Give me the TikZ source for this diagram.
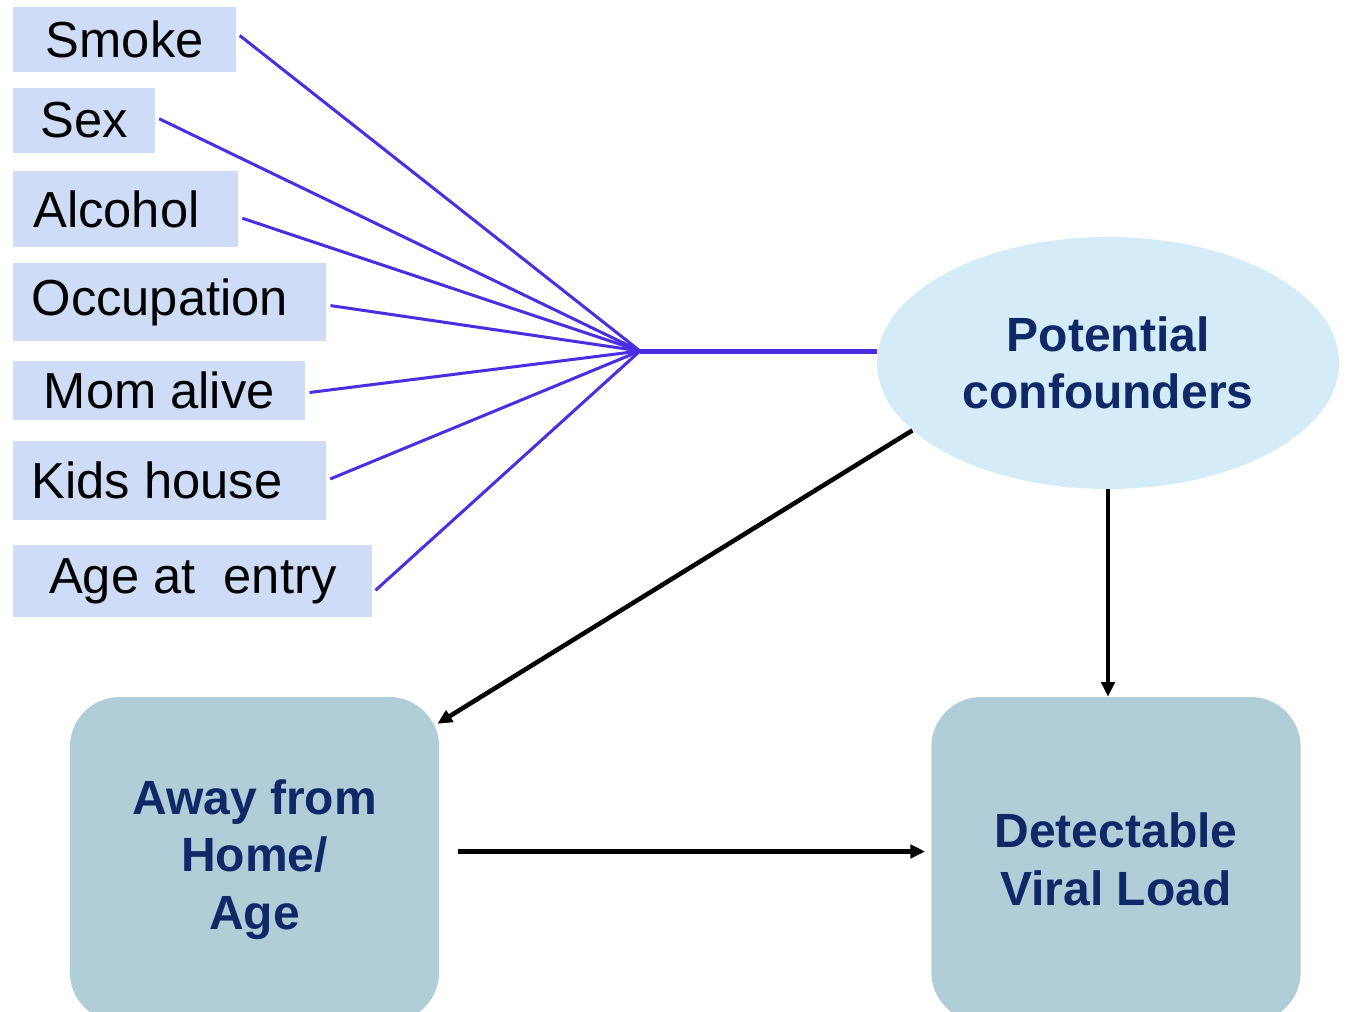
\documentclass[tikz,border=0pt]{standalone}
\usepackage{fontspec}
\setmainfont{Liberation Sans}
\usetikzlibrary{arrows.meta,shapes.geometric,calc}

\definecolor{factorfill}{RGB}{207,220,247}
\definecolor{feedblue}{RGB}{74,46,226}
\definecolor{conffill}{RGB}{212,236,247}
\definecolor{boxfill}{RGB}{176,205,216}
\definecolor{navy}{RGB}{15,40,104}

\tikzset{
  factor/.style={fill=factorfill, inner sep=0pt, anchor=west,
    font=\fontsize{38}{44}\selectfont},
  nudge/.style={execute at begin node={\hspace*{-#1}}},
  feed/.style={draw=feedblue, line width=2.25pt, shorten <=3pt},
  mainbox/.style={fill=boxfill, rounded corners=37.5pt, inner sep=0pt,
    minimum width=277pt, minimum height=243.75pt, align=center,
    text=navy, font=\fontsize{36}{43}\selectfont\bfseries},
  cause/.style={line width=3.4pt, -{Triangle[length=11pt,width=10pt]}}
}

\begin{document}
\begin{tikzpicture}[x=0.75pt,y=-0.75pt]
  \clip (0,0) rectangle (1348,1012);
  \fill[white] (0,0) rectangle (1348,1012);

  % the possible confounders
  \node[factor, minimum width=167.25pt, minimum height=48.75pt] (smoke) at (13,39.5) {Smoke};
  \node[factor, minimum width=106.5pt, minimum height=48.75pt] (sex) at (13,120.5) {Sex};
  \node[factor, nudge=14pt, minimum width=168.75pt, minimum height=57pt] (alcohol) at (13,209) {Alcohol};
  \node[factor, nudge=15pt, minimum width=234.75pt, minimum height=58.5pt] (occupation) at (13,302) {Occupation};
  \node[factor, minimum width=219pt, minimum height=44.25pt] (mom) at (13,390.5) {Mom alive};
  \node[factor, nudge=19pt, minimum width=234.75pt, minimum height=59.25pt] (kids) at (13,480.5) {Kids house};
  \node[factor, minimum width=269.25pt, minimum height=54pt] (entry) at (13,581) {Age at~ entry};

  \node[ellipse, fill=conffill, inner sep=0pt, minimum width=346.5pt,
    minimum height=189pt, align=center, text=navy,
    font=\fontsize{36}{43}\selectfont\bfseries] (conf) at (1108,363)
    {Potential\\confounders};

  \node[mainbox] (away) at (254.5,859.5) {Away from\\Home/\\Age};
  \node[mainbox] (det) at (1116,859.5) {Detectable\\Viral Load};

  \coordinate (hub) at (640,351);

  \foreach \f/\dy in {smoke/-6.5,sex/-3.5,alcohol/8,occupation/3,mom/2.5,kids/0,entry/12}
    \draw[feed] ($(\f.east)+(0,\dy)$) -- (hub);
  \draw[draw=feedblue, line width=3.75pt] (hub) -- (hub -| conf.west);

  % arrows between the main nodes
  \coordinate (awaytip) at ($(away.north east)+(-2,27)$);
  \draw[cause] (conf.199) -- (awaytip);
  \draw[cause] (conf.south) -- (conf.south |- det.north);
  \draw[cause] ($(away.east)+(19,-8)$) -- ($(det.west)+(-6,-8)$);
\end{tikzpicture}
\end{document}
